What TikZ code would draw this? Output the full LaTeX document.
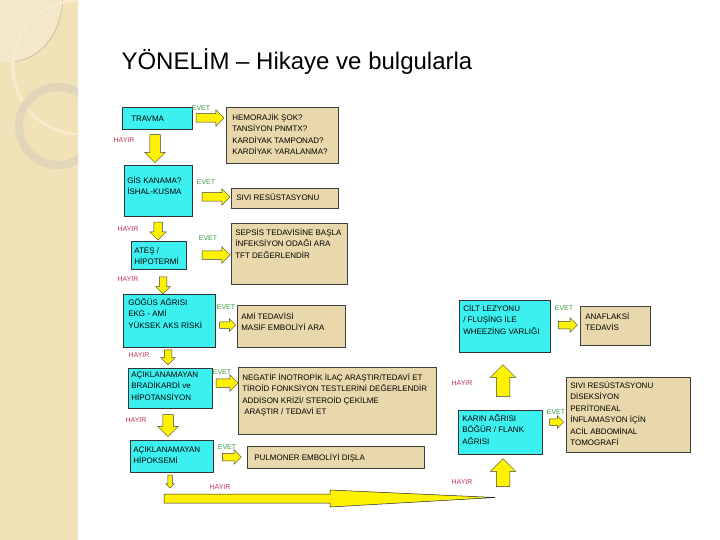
\documentclass[tikz,border=0pt]{standalone}
\usepackage{fontspec}
\setmainfont{Liberation Sans}
\usetikzlibrary{shapes.arrows,calc}
\definecolor{cStrip}{HTML}{F2E2B7}
\definecolor{cStripLight}{HTML}{F4E8CA}
\definecolor{cRing}{HTML}{E2D6BA}
\definecolor{cQuest}{HTML}{3CF0F0}
\definecolor{cAct}{HTML}{E8D8AC}
\definecolor{cArrow}{HTML}{FFF200}
\definecolor{cYes}{HTML}{3C9A46}
\definecolor{cNo}{HTML}{C23452}
\newcommand{\boxfont}{\fontsize{8}{11.5}\selectfont}
\newcommand{\tb}[3]{\parbox[t][#2pt][t]{#1pt}{\raggedright\rule{0pt}{7pt}#3}}

\begin{document}
\begin{tikzpicture}[x=1pt, y=-1pt,
  ques/.style={draw=black!80, line width=0.6pt, fill=cQuest,
    anchor=north west, font=\boxfont},
  act/.style={draw=black!75, line width=0.6pt, fill=cAct,
    anchor=north west, font=\boxfont},
  yes/.style={text=cYes, font=\fontsize{7}{8}\selectfont, inner sep=0pt},
  no/.style={text=cNo, font=\fontsize{7}{8}\selectfont, inner sep=0pt},
  yarr/.style n args={3}{single arrow, draw=black!75, line width=0.5pt,
    fill=cArrow, minimum height=#1, inner sep=#2,
    single arrow head extend=#3},
  dnarr/.style n args={3}{yarr={#1}{#2}{#3}, shape border rotate=270},
  uparr/.style n args={3}{yarr={#1}{#2}{#3}, shape border rotate=90},
]
\useasboundingbox (0,0) rectangle (720,540);
\fill[white] (0,0) rectangle (720,540);
% left strip
\begin{scope}
  \clip (0,0) rectangle (78,540);
  \fill[cStrip] (0,0) rectangle (78,540);
  \fill[cStripLight] (0,0) -- (63,0) .. controls (60,35) and (42,58) .. (13,62) -- (0,62) -- cycle;
  \draw[cRing!70!black, line width=0.3pt] (63,0) .. controls (60,35) and (42,58) .. (13,62);
  \draw[white!35!cStrip, line width=2.5pt] (80,67) circle[radius=67];
  \draw[cRing, line width=8pt] (58,126) circle[radius=39];
\end{scope}
\node[anchor=base west, font=\fontsize{24}{28}\selectfont] (title) at (118,70)
  {YÖNELİM – Hikaye ve bulgularla};

% question boxes
\node[ques, inner xsep=9pt, inner ysep=7pt] (travma) at (122,107) {\tb{52}{8}{TRAVMA}};
\node[ques, inner xsep=3pt, inner ysep=11pt] (gis) at (124,165) {\tb{62}{29}{GİS KANAMA?\\İSHAL-KUSMA}};
\node[ques, inner xsep=3pt, inner ysep=5pt] (ates) at (131,241) {\tb{49}{18}{ATEŞ /\\HİPOTERMİ}};
\node[ques, inner xsep=5pt, inner ysep=4pt] (gogus) at (123,294) {\tb{82}{45}{GÖĞÜS AĞRISI\\EKG - AMİ\\YÜKSEK AKS RİSKİ}};
\node[ques, inner xsep=3pt, inner ysep=2pt] (bradi) at (128,368) {\tb{78}{36}{AÇIKLANAMAYAN\\BRADİKARDİ ve\\HİPOTANSİYON}};
\node[ques, inner xsep=3pt, inner ysep=5pt] (hipok) at (130,440) {\tb{77}{22}{AÇIKLANAMAYAN\\HİPOKSEMİ}};
\node[ques, inner xsep=4pt, inner ysep=4pt] (karin) at (458,410) {\tb{76}{36}{KARIN AĞRISI\\BÖĞÜR / FLANK\\AĞRISI}};
\node[ques, inner xsep=4pt, inner ysep=4pt] (cilt) at (459,300) {\tb{83}{44}{CİLT LEZYONU\\/ FLUŞİNG İLE\\WHEEZİNG VARLIĞI}};

% action boxes
\node[act, inner xsep=6pt, inner ysep=6pt] (hemo) at (226,107) {\tb{100}{44}{HEMORAJİK ŞOK?\\TANSİYON PNMTX?\\KARDİYAK TAMPONAD?\\KARDİYAK YARALANMA?}};
\node[act, inner xsep=5pt, inner ysep=5pt] (sivi) at (231,188) {\tb{97}{10}{SIVI RESÜSTASYONU}};
\node[act, inner xsep=4pt, inner ysep=5pt] (sepsis) at (231,223) {\tb{108}{51}{SEPSİS TEDAVİSİNE BAŞLA\\İNFEKSİYON ODAĞI ARA\\TFT DEĞERLENDİR}};
\node[act, inner xsep=4pt, inner ysep=7pt] (ami) at (237,305) {\tb{100}{28}{AMİ TEDAVİSİ\\MASİF EMBOLİYİ ARA}};
\node[act, inner xsep=4pt, inner ysep=6pt] (negatif) at (238,367) {\tb{190}{55}{NEGATİF İNOTROPİK İLAÇ ARAŞTIR/TEDAVİ ET\\TİROİD FONKSİYON TESTLERİNİ DEĞERLENDİR\\ADDİSON KRİZİ/ STEROİD ÇEKİLME\\\hspace*{2pt}ARAŞTIR / TEDAVİ ET}};
\node[act, inner xsep=7pt, inner ysep=7pt] (pulmo) at (247,446) {\tb{163}{8}{PULMONER EMBOLİYİ DIŞLA}};
\node[act, inner xsep=4pt, inner ysep=4pt] (sivib) at (566,377) {\tb{116}{67}{SIVI RESÜSTASYONU\\DİSEKSİYON\\PERİTONEAL\\İNFLAMASYON İÇİN\\ACİL ABDOMİNAL\\TOMOGRAFİ}};
\node[act, inner xsep=5pt, inner ysep=6pt] (anaf) at (580,306) {\tb{60}{27}{ANAFLAKSİ\\TEDAVİS}};

% yes arrows
\node[yarr={28pt}{4pt}{4pt}] (ar1) at (208,118) {};
\node[yarr={28pt}{4pt}{4pt}] (ar2) at (214,197) {};
\node[yarr={28pt}{4pt}{4pt}] (ar3) at (214,255) {};
\node[yarr={16pt}{3pt}{3pt}] (ar4) at (226,325) {};
\node[yarr={22pt}{4pt}{4pt}] (ar5) at (225,383) {};
\node[yarr={19pt}{3.5pt}{3.5pt}] (ar6) at (230,457) {};
\node[yarr={14pt}{3pt}{3pt}] (ar7) at (555,422) {};
\node[yarr={19pt}{3.5pt}{3.5pt}] (ar8) at (566,325) {};

% no arrows
\node[dnarr={28pt}{5pt}{5pt}] (dn1) at (155,146) {};
\node[dnarr={18pt}{4pt}{4pt}] (dn2) at (158,229) {};
\node[dnarr={17pt}{3.5pt}{3.5pt}] (dn3) at (163,283.5) {};
\node[dnarr={15pt}{3.5pt}{3.5pt}] (dn4) at (168,355.5) {};
\node[dnarr={22pt}{5pt}{5pt}] (dn5) at (168,423) {};
\node[dnarr={13pt}{2pt}{2pt}] (dn6) at (170,480.5) {};
\filldraw[fill=cArrow, draw=black!85, line width=0.5pt]
  (164,494) -- (330,494) -- (330,490) -- (495,497.5) -- (330,507) -- (330,503) -- (164,503) -- cycle;
\node[uparr={28pt}{6.5pt}{6pt}] (up2) at (503,476) {};
\node[uparr={32pt}{6.5pt}{6pt}] (up1) at (503,384) {};

% labels
\node[yes] (y1) at (201,108) {EVET};
\node[yes] (y2) at (206,182) {EVET};
\node[yes] (y3) at (208,238) {EVET};
\node[yes] (y4) at (226,307) {EVET};
\node[yes] (y5) at (222,372) {EVET};
\node[yes] (y6) at (227,447) {EVET};
\node[yes] (y7) at (556,412) {EVET};
\node[yes] (y8) at (564,308) {EVET};
\node[no] (n1) at (124,140) {HAYIR};
\node[no] (n2) at (128,229) {HAYIR};
\node[no] (n3) at (128,279) {HAYIR};
\node[no] (n4) at (139,355) {HAYIR};
\node[no] (n5) at (136,420) {HAYIR};
\node[no] (n6) at (220,487) {HAYIR};
\node[no] (n7) at (462,482) {HAYIR};
\node[no] (n8) at (462,383) {HAYIR};
\end{tikzpicture}
\end{document}
